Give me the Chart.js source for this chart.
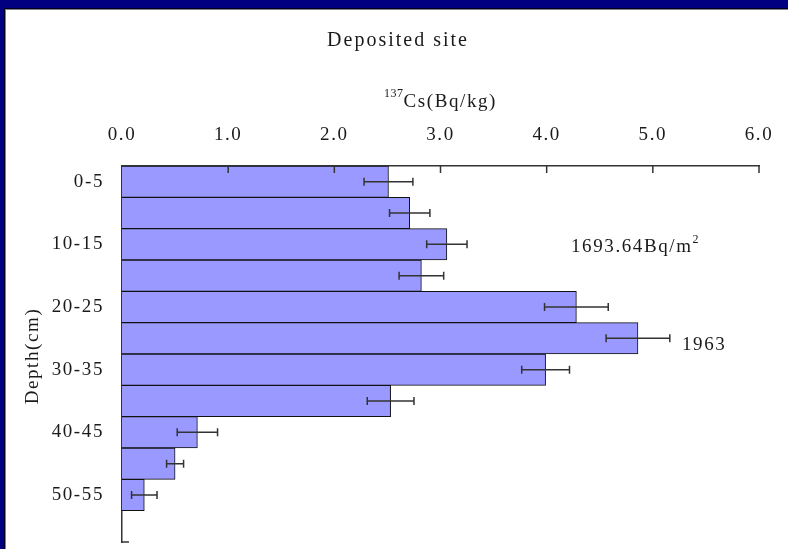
<!DOCTYPE html>
<html>
<head>
<meta charset="utf-8">
<script src="https://cdn.jsdelivr.net/npm/chart.js@4.4.1/dist/chart.umd.min.js"></script>
<style>
  html, body { margin: 0; padding: 0; background: #fff; }
  #wrap { width: 788px; height: 549px; }
</style>
</head>
<body>
<div id="wrap"><canvas id="c" width="788" height="549"></canvas></div>
<script>
// Depth profile of 137Cs activity at the deposited site
const categories = ['0-5', '5-10', '10-15', '15-20', '20-25', '25-30', '30-35', '35-40', '40-45', '45-50', '50-55', '55-60'];
const cs137 = [2.51, 2.71, 3.06, 2.82, 4.28, 4.86, 3.99, 2.53, 0.71, 0.50, 0.21, null];
const cs137Err = [0.23, 0.19, 0.19, 0.21, 0.30, 0.30, 0.225, 0.22, 0.19, 0.08, 0.12, null];
const xTicks = [0, 1, 2, 3, 4, 5, 6];

const FONT = "'Liberation Serif', 'DejaVu Serif', serif";
const INK = '#1a1a1a';

// Window frame, inventory note, error bars and inward axis ticks
const decor = {
  id: 'decor',
  beforeDraw(chart) {
    const ctx = chart.ctx;
    const W = chart.width, H = chart.height;
    ctx.save();
    ctx.letterSpacing = '0px';
    ctx.fillStyle = '#000080';
    ctx.fillRect(0, 0, W, H);
    ctx.fillStyle = '#000022';
    ctx.fillRect(4, 8, W - 4, H - 8);
    ctx.fillStyle = '#808080';
    ctx.fillRect(5, 9, W - 5, H - 9);
    ctx.fillStyle = '#ffffff';
    ctx.fillRect(6, 10, W - 6, H - 10);
    ctx.restore();
    ctx.letterSpacing = '1.6px';
  },
  afterDatasetsDraw(chart) {
    const ctx = chart.ctx;
    const xs = chart.scales.x, ys = chart.scales.y;
    const area = chart.chartArea;
    ctx.save();
    ctx.strokeStyle = '#333';
    ctx.lineWidth = 1.5;
    // error bars
    cs137.forEach((v, i) => {
      if (v == null) return;
      const e = cs137Err[i];
      const x0 = xs.getPixelForValue(v - e);
      const x1 = xs.getPixelForValue(v + e);
      const y = ys.getPixelForValue(i);
      ctx.beginPath();
      ctx.moveTo(x0, y); ctx.lineTo(x1, y);
      ctx.moveTo(x0, y - 4); ctx.lineTo(x0, y + 4);
      ctx.moveTo(x1, y - 4); ctx.lineTo(x1, y + 4);
      ctx.stroke();
    });
    // inward ticks on the top axis
    xTicks.forEach(t => {
      if (t === 0) return;
      const x = xs.getPixelForValue(t);
      ctx.beginPath();
      ctx.moveTo(x, area.top); ctx.lineTo(x, area.top + 7);
      ctx.stroke();
    });
    // end tick at the bottom of the depth axis
    ctx.beginPath();
    ctx.moveTo(area.left, area.bottom); ctx.lineTo(area.left + 7, area.bottom);
    ctx.stroke();
    ctx.restore();
  },
  afterDraw(chart) {
    const ctx = chart.ctx;
    const area = chart.chartArea;
    ctx.save();
    ctx.fillStyle = INK;
    ctx.textBaseline = 'alphabetic';

    // chart title
    ctx.letterSpacing = '2px';
    ctx.font = `20px ${FONT}`;
    ctx.textAlign = 'center';
    ctx.fillText('Deposited site', 398, 46);

    // x axis title with superscript mass number
    const cx = (area.left + area.right) / 2;
    ctx.font = `19px ${FONT}`;
    ctx.letterSpacing = '1.6px';
    const main = 'Cs(Bq/kg)';
    const mw = ctx.measureText(main).width;
    ctx.font = `12px ${FONT}`;
    ctx.letterSpacing = '0.5px';
    const sup = '137';
    const sw = ctx.measureText(sup).width;
    const start = cx - (mw + sw) / 2;
    ctx.textAlign = 'left';
    ctx.fillText(sup, start, 97);
    ctx.font = `19px ${FONT}`;
    ctx.letterSpacing = '1.6px';
    ctx.fillText(main, start + sw, 107);

    // inventory and dating annotations
    const note = '1693.64Bq/m';
    ctx.fillText(note, 571, 252);
    const nw = ctx.measureText(note).width;
    ctx.font = `12px ${FONT}`;
    ctx.letterSpacing = '0px';
    ctx.fillText('2', 571 + nw, 243);
    ctx.font = `19px ${FONT}`;
    ctx.letterSpacing = '1.6px';
    ctx.fillText('1963', 682, 350);

    // y axis title
    ctx.translate(38, (area.top + area.bottom) / 2 + 2);
    ctx.rotate(-Math.PI / 2);
    ctx.textAlign = 'center';
    ctx.fillText('Depth(cm)', 0, 0);
    ctx.restore();
  }
};

new Chart(document.getElementById('c'), {
  type: 'bar',
  data: {
    labels: categories,
    datasets: [{
      data: cs137,
      backgroundColor: '#9999ff',
      borderColor: '#111',
      borderWidth: 1,
      borderSkipped: 'start',
      barPercentage: 1,
      categoryPercentage: 1
    }]
  },
  options: {
    indexAxis: 'y',
    responsive: false,
    animation: false,
    devicePixelRatio: 1,
    layout: { padding: { left: 0, top: 0, right: 29, bottom: 7 } },
    plugins: { legend: { display: false }, title: { display: false }, tooltip: { enabled: false } },
    scales: {
      x: {
        position: 'top',
        min: 0,
        max: 6,
        afterBuildTicks(s) { s.ticks = xTicks.map(v => ({ value: v })); },
        afterFit(s) { s.height = 166; s.paddingLeft = 0; s.paddingRight = 0; },
        grid: { display: false, drawTicks: false },
        border: { display: true, color: '#333', width: 1.5 },
        ticks: {
          autoSkip: false,
          maxRotation: 0,
          padding: 20,
          color: INK,
          font: { family: FONT, size: 19 },
          callback: v => Number(v).toFixed(1)
        }
      },
      y: {
        type: 'category',
        offset: true,
        afterFit(s) { s.width = 122; s.paddingTop = 0; s.paddingBottom = 0; },
        grid: { display: false, drawTicks: false },
        border: { display: true, color: '#333', width: 1.5 },
        ticks: {
          autoSkip: false,
          padding: 18,
          color: INK,
          font: { family: FONT, size: 19 },
          callback: function (v, i) { return i % 2 === 0 ? this.getLabelForValue(v) : ''; }
        }
      }
    }
  },
  plugins: [decor]
});
</script>
</body>
</html>
